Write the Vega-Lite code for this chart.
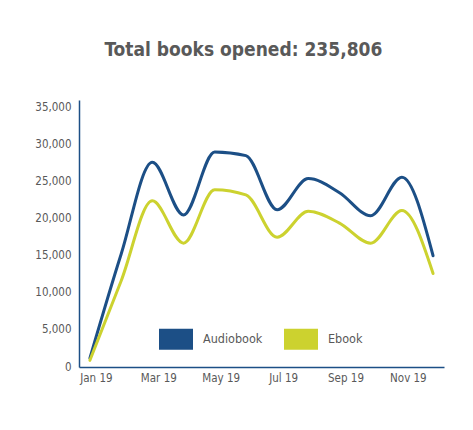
{
  "$schema": "https://vega.github.io/schema/vega-lite/v6.json",
  "width": 365,
  "height": 267,
  "padding": {"left": 34, "top": 41, "right": 10, "bottom": 10},
  "background": "white",
  "title": {
    "text": "Total books opened: 235,806",
    "font": "DejaVu Sans Condensed",
    "fontSize": 19,
    "fontWeight": "bold",
    "color": "#595959",
    "anchor": "middle",
    "frame": "bounds",
    "dx": 4,
    "offset": 40
  },
  "data": {
    "values": [
      {"month": "Jan 19", "type": "Audiobook", "books": 1200},
      {"month": "Feb 19", "type": "Audiobook", "books": 15200},
      {"month": "Mar 19", "type": "Audiobook", "books": 27600},
      {"month": "Apr 19", "type": "Audiobook", "books": 20500},
      {"month": "May 19", "type": "Audiobook", "books": 29000},
      {"month": "Jun 19", "type": "Audiobook", "books": 28500},
      {"month": "Jul 19", "type": "Audiobook", "books": 21200},
      {"month": "Aug 19", "type": "Audiobook", "books": 25400},
      {"month": "Sep 19", "type": "Audiobook", "books": 23500},
      {"month": "Oct 19", "type": "Audiobook", "books": 20400},
      {"month": "Nov 19", "type": "Audiobook", "books": 25600},
      {"month": "Dec 19", "type": "Audiobook", "books": 15000},
      {"month": "Jan 19", "type": "Ebook", "books": 900},
      {"month": "Feb 19", "type": "Ebook", "books": 11600},
      {"month": "Mar 19", "type": "Ebook", "books": 22400},
      {"month": "Apr 19", "type": "Ebook", "books": 16700},
      {"month": "May 19", "type": "Ebook", "books": 23900},
      {"month": "Jun 19", "type": "Ebook", "books": 23200},
      {"month": "Jul 19", "type": "Ebook", "books": 17500},
      {"month": "Aug 19", "type": "Ebook", "books": 21000},
      {"month": "Sep 19", "type": "Ebook", "books": 19400},
      {"month": "Oct 19", "type": "Ebook", "books": 16700},
      {"month": "Nov 19", "type": "Ebook", "books": 21100},
      {"month": "Dec 19", "type": "Ebook", "books": 12600}
    ]
  },
  "mark": {"type": "line", "interpolate": "monotone", "strokeWidth": 3, "strokeCap": "round"},
  "encoding": {
    "x": {
      "field": "month",
      "type": "ordinal",
      "sort": null,
      "scale": {"type": "point", "padding": 0.35},
      "axis": {
        "title": null,
        "values": ["Jan 19", "Mar 19", "May 19", "Jul 19", "Sep 19", "Nov 19"],
        "labelAngle": 0,
        "ticks": false,
        "labelPadding": 5,
        "labelOffset": 6,
        "labelFont": "DejaVu Sans Condensed",
        "labelFontSize": 11.5,
        "labelColor": "#595959",
        "domainColor": "#1c4f86",
        "domainWidth": 1.5,
        "grid": false
      }
    },
    "y": {
      "field": "books",
      "type": "quantitative",
      "scale": {"domain": [0, 36000], "nice": false},
      "axis": {
        "title": null,
        "values": [0, 5000, 10000, 15000, 20000, 25000, 30000, 35000],
        "format": ",d",
        "ticks": false,
        "labelPadding": 8,
        "labelFont": "DejaVu Sans Condensed",
        "labelFontSize": 11.5,
        "labelColor": "#595959",
        "domainColor": "#1c4f86",
        "domainWidth": 1.5,
        "grid": false
      }
    },
    "color": {
      "field": "type",
      "type": "nominal",
      "scale": {"domain": ["Audiobook", "Ebook"], "range": ["#1c4f86", "#ccd22f"]},
      "legend": {
        "title": null,
        "orient": "none",
        "direction": "horizontal",
        "legendX": 80,
        "legendY": 222,
        "symbolType": "M-1,-0.62H1V0.62H-1Z",
        "symbolSize": 1156,
        "symbolStrokeWidth": 0,
        "labelFont": "DejaVu Sans Condensed",
        "labelFontSize": 12.5,
        "labelColor": "#595959",
        "labelOffset": 10,
        "columnPadding": 21,
        "encode": {"symbols": {"update": {"fill": {"scale": "color", "field": "value"}, "opacity": {"value": 1}}}}
      }
    }
  },
  "config": {"view": {"stroke": null}}
}
